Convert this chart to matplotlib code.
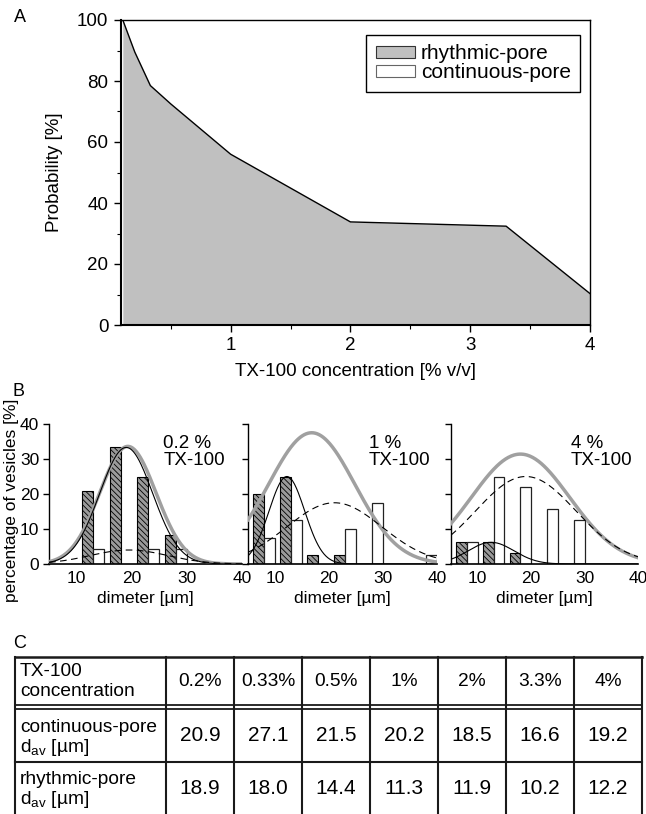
import numpy as np
import matplotlib.pyplot as plt
from matplotlib.patches import Patch

plt.rcParams['font.family'] = ['Liberation Sans', 'DejaVu Sans']
plt.rcParams['mathtext.fontset'] = 'custom'
plt.rcParams['mathtext.rm'] = 'Liberation Sans'
plt.rcParams['mathtext.default'] = 'regular'
plt.rcParams['hatch.linewidth'] = 0.6

# Панель A: вероятность ритмических пор
conc = [0.1, 0.2, 0.33, 0.5, 1, 2, 3.3, 4]
prob_rhythmic = [100, 89.5, 78.5, 72.5, 56, 33.8, 32.4, 10.3]

# Панель B: гистограммы диаметров (нижние границы бинов, мкм)
bin_edges = [5, 10, 15, 20, 25, 30, 35]
hist_labels = ['0.2 %', '1 %', '4 %']
hist_rhythmic = [
    [0, 20.8, 33.3, 25.0, 8.3, 0, 0],
    [20.0, 25.0, 2.5, 2.5, 0, 0, 0],
    [6.25, 6.25, 3.1, 0, 0, 0, 0],
]
hist_continuous = [
    [0, 4.2, 0, 4.2, 4.2, 0, 0],
    [7.5, 12.5, 0, 10.0, 17.5, 0, 2.5],
    [6.25, 25.0, 21.9, 15.6, 12.5, 0, 0],
]
# гауссовы аппроксимации: (амплитуда, центр, сигма)
fit_total = [(33.6, 19.3, 5.1), (37.5, 16.8, 8.0), (31.4, 18.0, 9.2)]
fit_rhythmic = [(33.3, 19.0, 4.8), (25.0, 12.2, 3.3), (6.2, 12.5, 4.3)]
fit_continuous = [(4.0, 19.5, 7.0), (17.5, 21.0, 8.8), (25.0, 19.0, 9.4)]

# Панель C: таблица
table_conc = ['0.2%', '0.33%', '0.5%', '1%', '2%', '3.3%', '4%']
dav_continuous = [20.9, 27.1, 21.5, 20.2, 18.5, 16.6, 19.2]
dav_rhythmic = [18.9, 18.0, 14.4, 11.3, 11.9, 10.2, 12.2]

W, H = 646, 814
fig = plt.figure(figsize=(W / 100, H / 100), dpi=100)


def px_axes(left, top, right, bottom):
    return fig.add_axes([left / W, 1 - bottom / H, (right - left) / W, (bottom - top) / H])


def gauss(x, p):
    a, m, s = p
    return a * np.exp(-0.5 * ((x - m) / s) ** 2)


# ---------- A ----------
axA = px_axes(121, 20, 590, 325)
axA.fill_between(conc, prob_rhythmic, 0, color='#c0c0c0', lw=0)
axA.plot(conc, prob_rhythmic, color='k', lw=1.0)
axA.set_xlim(0.085, 4)
axA.set_ylim(0, 100)
axA.set_xticks([1, 2, 3, 4])
axA.set_xticks([0.5, 1.5, 2.5, 3.5], minor=True)
axA.set_yticks(range(0, 101, 20))
axA.set_yticks(range(10, 100, 20), minor=True)
axA.tick_params(which='major', direction='out', length=5, width=1, labelsize=13.5, pad=4)
axA.tick_params(which='minor', direction='out', length=3, width=0.8)
for side in ['left', 'bottom']:
    axA.spines[side].set_linewidth(1.5)
for side in ['top', 'right']:
    axA.spines[side].set_linewidth(1.0)
axA.set_xlabel('TX-100 concentration [% v/v]', fontsize=13.5, labelpad=6)
axA.set_ylabel('Probability [%]', fontsize=13.5, labelpad=10)
handles = [Patch(facecolor='#c0c0c0', edgecolor='#333333', lw=0.8, label='rhythmic-pore'),
           Patch(facecolor='white', edgecolor='#666666', lw=0.8, label='continuous-pore')]
leg = axA.legend(handles=handles, loc='upper right', bbox_to_anchor=(580 / W, 1 - 35 / H),
                 bbox_transform=fig.transFigure, borderaxespad=0, fontsize=15,
                 handlelength=1.9, handleheight=0.5, handletextpad=0.25,
                 labelspacing=0.0, borderpad=0.45, fancybox=False, framealpha=1)
leg.get_frame().set_edgecolor('k')
leg.get_frame().set_linewidth(1.0)

# ---------- B ----------
b_axes = [(49, 242), (248, 437), (451, 638)]
xs = np.linspace(5, 40, 200)
for i, (left, right) in enumerate(b_axes):
    ax = px_axes(left, 424, right, 564)
    edges = np.array(bin_edges, dtype=float)
    hr = np.array(hist_rhythmic[i])
    hc = np.array(hist_continuous[i])
    ax.bar(edges[hr > 0] + 2, hr[hr > 0], width=2, facecolor='#9a9a9a', edgecolor='k',
           hatch='\\\\\\\\\\\\', lw=0.8, zorder=2)
    ax.bar(edges[hc > 0] + 4, hc[hc > 0], width=2, facecolor='white', edgecolor='#222222',
           lw=0.9, zorder=2)
    ax.plot(xs, gauss(xs, fit_total[i]), color='#a0a0a0', lw=2.5, zorder=3)
    ax.plot(xs, gauss(xs, fit_continuous[i]), color='k', lw=0.8, ls=(0, (6, 4)), zorder=4)
    ax.plot(xs, gauss(xs, fit_rhythmic[i]), color='k', lw=0.8, zorder=4)
    ax.set_xlim(5, 40)
    ax.set_ylim(0, 40)
    ax.set_xticks([10, 20, 30, 40])
    ax.set_yticks(range(0, 41, 10))
    ax.spines['top'].set_visible(False)
    ax.spines['right'].set_visible(False)
    ax.spines['left'].set_linewidth(1.0)
    ax.spines['bottom'].set_linewidth(1.2)
    ax.tick_params(axis='x', length=0, labelsize=12.5, pad=5)
    ax.tick_params(axis='y', direction='out', length=4, width=1, labelsize=12.5, pad=3)
    if i > 0:
        ax.set_yticklabels([])
    ax.set_xlabel('dimeter [µm]', fontsize=12.5, labelpad=4)
    tx = 25.7 if i == 0 else 27.4
    ax.text(tx, 36.8, hist_labels[i] + '\nTX-100', fontsize=13.5, va='top', ha='left',
            linespacing=0.95)

fig.text(12 / W, 1 - 500 / H, 'percentage of vesicles [%]', rotation=90, fontsize=12.5,
         ha='center', va='center')

# ---------- подписи панелей ----------
for lab, (x, y) in zip(['A', 'B', 'C'], [(20, 17), (19, 392), (20, 643)]):
    fig.text(x / W, 1 - y / H, lab, fontsize=13, ha='center', va='center')

# ---------- C: таблица ----------
axT = fig.add_axes([0, 0, 1, 1])
axT.set_xlim(0, W)
axT.set_ylim(H, 0)
axT.axis('off')
axT.patch.set_visible(False)

col_x = [14.5, 166, 234, 302, 370, 438, 506, 574, 642]
t_top, dbl1, dbl2, row_line = 657, 705, 709, 762
lc = '#1a1a1a'
axT.plot([col_x[0], col_x[-1]], [t_top, t_top], color=lc, lw=1.8)
axT.plot([col_x[0], col_x[-1]], [dbl1, dbl1], color=lc, lw=1.3)
axT.plot([col_x[0], col_x[-1]], [dbl2, dbl2], color=lc, lw=1.3)
axT.plot([col_x[0], col_x[-1]], [row_line, row_line], color=lc, lw=1.5)
for x in col_x:
    axT.plot([x, x], [t_top, H], color=lc, lw=1.5)

row_c = [681, 735.5, 788]
axT.text(20, 672, 'TX-100', fontsize=13.8, va='center', ha='left')
axT.text(20, 692, 'concentration', fontsize=13.8, va='center', ha='left')
axT.text(20, 727, 'continuous-pore', fontsize=13.8, va='center', ha='left')
axT.text(20, 748, r'd$_{av}$ [µm]', fontsize=13.8, va='center', ha='left')
axT.text(20, 780, 'rhythmic-pore', fontsize=13.8, va='center', ha='left')
axT.text(20, 800, r'd$_{av}$ [µm]', fontsize=13.8, va='center', ha='left')
for j in range(len(table_conc)):
    xc = (col_x[j + 1] + col_x[j + 2]) / 2
    axT.text(xc, row_c[0], table_conc[j], fontsize=13.8, ha='center', va='center')
    axT.text(xc, row_c[1], f'{dav_continuous[j]:.1f}', fontsize=15, ha='center', va='center')
    axT.text(xc, row_c[2], f'{dav_rhythmic[j]:.1f}', fontsize=15, ha='center', va='center')

fig.savefig('out.png', dpi=100)
